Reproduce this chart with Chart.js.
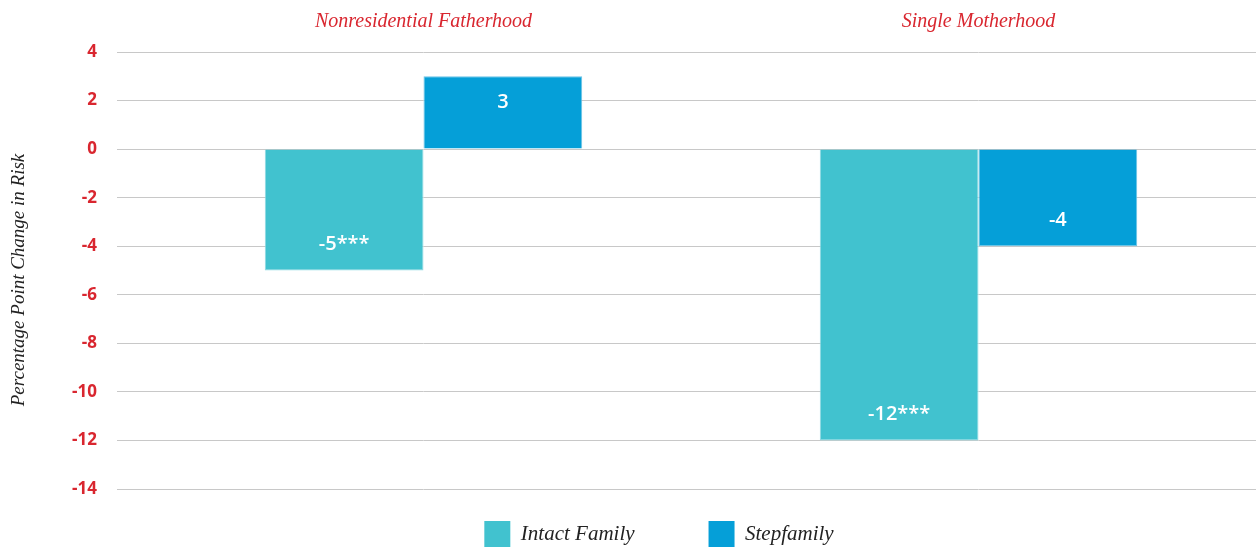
<!DOCTYPE html>
<html>
<head>
<meta charset="utf-8">
<script src="https://cdn.jsdelivr.net/npm/chart.js@4.4.0/dist/chart.umd.min.js"></script>
<style>
  html, body { margin: 0; padding: 0; background: #fff; }
  #wrap { width: 1258px; height: 548px; position: relative; }
</style>
</head>
<body>
<div id="wrap"><canvas id="chart"></canvas></div>
<script>
// data
const categories = ["Nonresidential Fatherhood", "Single Motherhood"];
const intactValues = [-5, -12];
const stepValues = [3, -4];
const intactLabels = ["-5***", "-12***"];
const stepLabels = ["3", "-4"];
const yTicks = [4, 2, 0, -2, -4, -6, -8, -10, -12, -14];

const RED = "#d9262f";
const SERIF = "'Liberation Serif', 'DejaVu Serif', serif";
const SANS = "'Open Sans', 'Noto Sans', sans-serif";

// ===============================
// value labels inside bar ends
// ===============================
const barLabels = {
  id: "barLabels",
  afterDatasetsDraw(chart) {
    const ctx = chart.ctx;
    const texts = [intactLabels, stepLabels];
    ctx.save();
    ctx.fillStyle = "#ffffff";
    ctx.font = "600 20px " + SANS;
    ctx.textAlign = "center";
    ctx.textBaseline = "middle";
    chart.data.datasets.forEach((ds, di) => {
      chart.getDatasetMeta(di).data.forEach((bar, i) => {
        const v = ds.data[i];
        const y = v >= 0 ? bar.y + 26 : bar.y - 26;
        ctx.fillText(texts[di][i], bar.x, y);
      });
    });
    ctx.restore();
  }
};

// ===============================
// rotated y title
// ===============================
const yTitle = {
  id: "yTitle",
  afterDraw(chart) {
    const ctx = chart.ctx;
    ctx.save();
    ctx.translate(19, 280);
    ctx.rotate(-Math.PI / 2);
    ctx.fillStyle = "#222";
    ctx.font = "italic 19px " + SERIF;
    ctx.textAlign = "center";
    ctx.textBaseline = "middle";
    ctx.fillText("Percentage Point Change in Risk", 0, 0);
    ctx.restore();
  }
};

new Chart(document.getElementById("chart"), {
  type: "bar",
  data: {
    labels: categories,
    datasets: [
      {
        label: "Intact Family",
        data: intactValues,
        backgroundColor: "#41c2cf",
        borderColor: "#8ed9e1",
        borderWidth: 1
      },
      {
        label: "Stepfamily",
        data: stepValues,
        backgroundColor: "#059fd8",
        borderColor: "#6cc3e6",
        borderWidth: 1
      }
    ]
  },
  options: {
    responsive: true,
    maintainAspectRatio: false,
    animation: false,
    layout: {
      padding: { left: 62, right: 2, top: -8, bottom: -9 }
    },
    plugins: {
      legend: {
        position: "bottom",
        labels: {
          boxWidth: 26,
          boxHeight: 26,
          padding: 32,
          color: "#222",
          font: { family: SERIF, style: "italic", size: 21 },
          generateLabels: (chart) => {
            const items = Chart.defaults.plugins.legend.labels.generateLabels(chart);
            items[0].text += "\u2003\u2003";
            items.forEach(it => { it.lineWidth = 0; });
            return items;
          }
        }
      },
      tooltip: { enabled: false }
    },
    datasets: {
      bar: { categoryPercentage: 0.572, barPercentage: 1 }
    },
    scales: {
      x: {
        position: "top",
        grid: { display: false, drawTicks: false },
        border: { display: false },
        ticks: {
          color: RED,
          padding: 18,
          font: { family: SERIF, style: "italic", size: 20 }
        }
      },
      y: {
        min: -14,
        max: 4,
        afterBuildTicks: (axis) => {
          axis.ticks = yTicks.map(v => ({ value: v }));
        },
        afterFit: (axis) => { axis.width = 84; },
        border: { display: false },
        grid: {
          color: "#c8c8c8",
          lineWidth: 1,
          drawTicks: true,
          tickLength: 29,
          tickColor: "#c8c8c8"
        },
        ticks: {
          color: RED,
          padding: 20,
          font: { family: SANS, weight: "bold", size: 17 }
        }
      }
    }
  },
  plugins: [barLabels, yTitle]
});
</script>
</body>
</html>
